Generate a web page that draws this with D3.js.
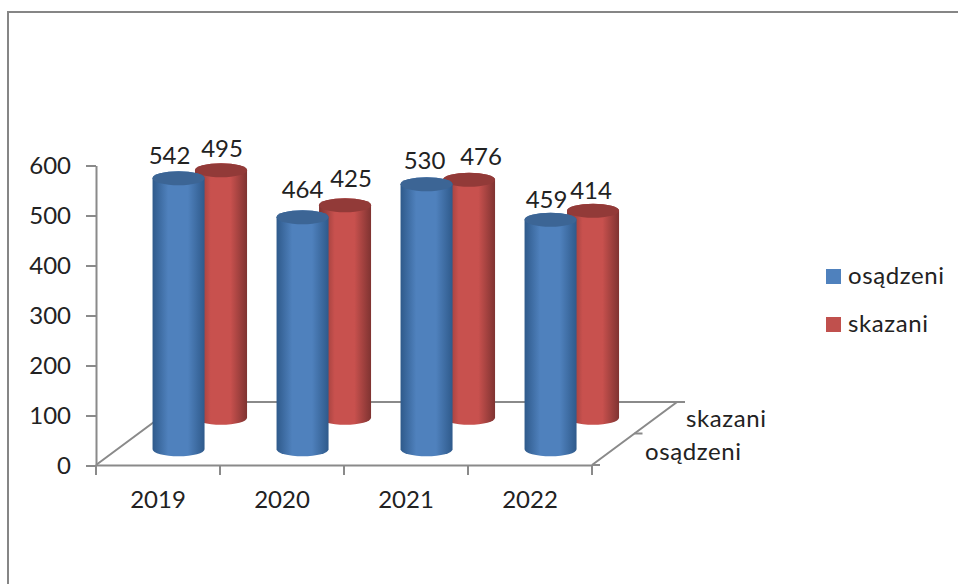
<!DOCTYPE html>
<html>
<head>
  <meta charset="utf-8">
  <title>osądzeni / skazani</title>
  <style>
    body { margin: 0; background: #fff; }
    svg { display: block; }
    text { font-family: Lato, sans-serif; font-size: 24px; fill: #222; }
    .word { letter-spacing: 0.6px; }
    .axis text { font-size: 24px; font-family: Lato, sans-serif; }
    .axis path, .axis line, .floor { fill: none; stroke: #8a8a8a; stroke-width: 2px; }
  </style>
</head>
<body>
  <script src="https://d3js.org/d3.v7.min.js"></script>
  <script>
    const years = ["2019", "2020", "2021", "2022"];
    const seriesNames = ["osądzeni", "skazani"];
    const osadzeni = [542, 464, 530, 459];
    const skazani = [495, 425, 476, 414];
    const yTicks = [0, 100, 200, 300, 400, 500, 600];

    // label nudges, the original labels were not quite centred on the columns
    const labelNudge = {
      "osądzeni": [[-9, -14], [0, -19], [-2, -15], [-4, -12]],
      "skazani": [[1, -13], [6, -18], [12, -15], [-2, -12]]
    };

    const width = 958, height = 584;
    const x0 = 96, x1 = 592, y0 = 465, y1 = 165;
    const depthX = 85, depthY = -63;   // floor shear
    const rx = 26, ry = 7;

    const svg = d3.select("body").append("svg").attr("width", width).attr("height", height);

    const x = d3.scaleBand().domain(years).range([x0, x1]);
    const y = d3.scaleLinear().domain([0, 600]).range([y0, y1]);
    const depth = d3.scaleBand().domain(seriesNames).range([0, 1]);

    const colors = {
      "osądzeni": { edge: "#2f5a8b", mid: "#4f81bd", top: "#3c6595", swatch: "#4f81bd" },
      "skazani": { edge: "#7f3331", mid: "#c8514e", top: "#923a38", swatch: "#c0504d" }
    };

    // outer border, open on the right and at the bottom
    svg.append("path").attr("d", `M8,${height}V12H${width}`)
      .attr("fill", "none").attr("stroke", "#868686").attr("stroke-width", 2);

    const defs = svg.append("defs");
    seriesNames.forEach((s, i) => {
      const g = defs.append("linearGradient").attr("id", "side" + i);
      g.append("stop").attr("offset", "0%").attr("stop-color", colors[s].edge);
      g.append("stop").attr("offset", "30%").attr("stop-color", colors[s].mid);
      g.append("stop").attr("offset", "68%").attr("stop-color", colors[s].mid);
      g.append("stop").attr("offset", "100%").attr("stop-color", colors[s].edge);
    });

    // floor
    svg.append("path").attr("class", "floor")
      .attr("d", `M${x0},${y0}L${x0 + depthX},${y0 + depthY}H${x1 + depthX}L${x1},${y0}`);

    // axes
    svg.append("g").attr("class", "axis")
      .attr("transform", `translate(${x0},0.5)`)
      .call(d3.axisLeft(y).tickValues(yTicks).tickSize(10).tickSizeOuter(0).tickPadding(15))
      .call(g => g.selectAll("text").attr("fill", "#222"));

    svg.append("g").attr("class", "axis")
      .attr("transform", `translate(0,${y0})`)
      .call(d3.axisBottom(x).tickSize(0).tickPadding(26))
      .call(g => g.selectAll("text").attr("fill", "#222"))
      .call(g => g.selectAll(".tick line").remove())
      .call(g => g.selectAll(".edge").data([...years.map(d => x(d)), x1]).join("line")
        .attr("class", "edge").attr("x1", d => d).attr("x2", d => d).attr("y1", 0).attr("y2", 10));

    // depth axis
    const depthAxis = svg.append("g").attr("class", "axis");
    [0, 0.5, 1].forEach(t => {
      depthAxis.append("line")
        .attr("x1", x1 + depthX * t).attr("x2", x1 + depthX * t + 8)
        .attr("y1", y0 + depthY * t).attr("y2", y0 + depthY * t);
    });
    svg.selectAll(".depth-label").data(seriesNames).join("text")
      .attr("class", "depth-label word")
      .attr("x", (d, i) => x1 + 53 + i * 41)
      .attr("y", (d, i) => 460 - i * 33)
      .text(d => d);

    const cylinder = (cx, base, top) =>
      `M${cx - rx},${top}V${base}A${rx},${ry} 0 0 0 ${cx + rx},${base}V${top}A${rx},${ry} 0 0 0 ${cx - rx},${top}Z`;

    const rows = s => years.map((year, i) => ({
      year, s, i,
      value: (s === "osądzeni" ? osadzeni : skazani)[i],
      cx: x(year) + x.bandwidth() / 2 + depthX * (depth(s) + depth.bandwidth() / 2) - 0.7,
      shift: depthY * (depth(s) + depth.bandwidth() / 2)
    }));

    // back row first so the front columns overlap it
    [...seriesNames].reverse().forEach(s => {
      const idx = seriesNames.indexOf(s);
      const g = svg.append("g");
      g.selectAll("path.side").data(rows(s)).join("path")
        .attr("class", "side")
        .attr("fill", `url(#side${idx})`)
        .attr("d", d => cylinder(d.cx, y0 + d.shift, y(d.value) + d.shift));
      g.selectAll("ellipse").data(rows(s)).join("ellipse")
        .attr("cx", d => d.cx)
        .attr("cy", d => y(d.value) + d.shift)
        .attr("rx", rx).attr("ry", ry)
        .attr("fill", colors[s].top);
    });

    seriesNames.forEach(s => {
      svg.selectAll(null).data(rows(s)).join("text")
        .attr("text-anchor", "middle")
        .attr("x", d => d.cx + labelNudge[s][d.i][0])
        .attr("y", d => y(d.value) + d.shift + labelNudge[s][d.i][1])
        .text(d => d.value);
    });

    // legend
    const legend = svg.selectAll(".legend").data(seriesNames).join("g")
      .attr("class", "legend")
      .attr("transform", (d, i) => `translate(826,${269 + i * 48})`);
    legend.append("rect").attr("width", 15).attr("height", 15).attr("fill", d => colors[d].swatch);
    legend.append("text").attr("class", "word").attr("x", 22).attr("y", 15).text(d => d);
  </script>
</body>
</html>
